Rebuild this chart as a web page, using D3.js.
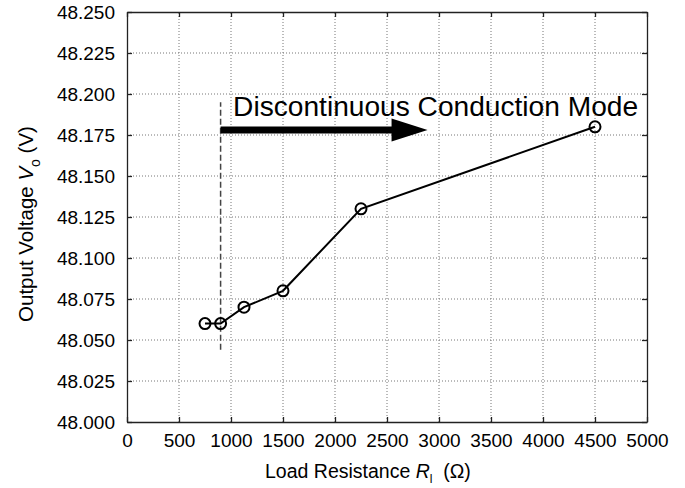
<!DOCTYPE html>
<html>
<head>
<meta charset="utf-8">
<script src="https://cdn.jsdelivr.net/npm/d3@7"></script>
<style>
  body { margin: 0; background: #fff; }
  svg { display: block; font-family: "Liberation Sans", Arial, sans-serif; }
  .grid line { stroke: #777; stroke-width: 1; stroke-dasharray: 1,2; }
</style>
</head>
<body>
<div id="chart"></div>
<script>
// measured values
var resistance = [750, 900, 1125, 1500, 2250, 4500]
var voltage = [48.06, 48.06, 48.07, 48.08, 48.13, 48.18]

var xTicks = [0, 500, 1000, 1500, 2000, 2500, 3000, 3500, 4000, 4500, 5000]
var yTicks = [48.000, 48.025, 48.050, 48.075, 48.100, 48.125, 48.150, 48.175, 48.200, 48.225, 48.250]

// annotation: dashed boundary and arrow (data units)
var boundaryR = 900
var boundaryV = [48.044, 48.195]
var arrowR = [900, 2890]
var arrowV = 48.178
var labelText = "Discontinuous Conduction Mode"
var labelPos = [1020, 48.1866]

var width = 685, height = 488
var margin = {top: 12, right: 38, bottom: 66, left: 127}

var svg = d3.select("#chart").append("svg")
  .attr("width", width)
  .attr("height", height)

var x = d3.scaleLinear().domain([0, 5000]).range([margin.left, width - margin.right])
var y = d3.scaleLinear().domain([48.0, 48.25]).range([height - margin.bottom, margin.top])

// grid
var grid = svg.append("g").attr("class", "grid")
grid.selectAll(".vx").data(xTicks.slice(1, -1)).enter().append("line")
  .attr("x1", function(d) { return x(d) }).attr("x2", function(d) { return x(d) })
  .attr("y1", y(48.0)).attr("y2", y(48.25))
grid.selectAll(".hy").data(yTicks.slice(1, -1)).enter().append("line")
  .attr("y1", function(d) { return y(d) }).attr("y2", function(d) { return y(d) })
  .attr("x1", x(0)).attr("x2", x(5000))

// axes with inward ticks
var fmt = d3.format(".3f")
var bottom = svg.append("g").attr("transform", "translate(0," + y(48.0) + ")")
  .call(d3.axisBottom(x).tickValues(xTicks).tickSizeInner(-5).tickSizeOuter(0).tickPadding(12).tickFormat(d3.format("d")))
var top = svg.append("g").attr("transform", "translate(0," + y(48.25) + ")")
  .call(d3.axisTop(x).tickValues(xTicks).tickSizeInner(-5).tickSizeOuter(0).tickFormat(""))
var left = svg.append("g").attr("transform", "translate(" + x(0) + ",0)")
  .call(d3.axisLeft(y).tickValues(yTicks).tickSizeInner(-5).tickSizeOuter(0).tickPadding(12).tickFormat(fmt))
var right = svg.append("g").attr("transform", "translate(" + x(5000) + ",0)")
  .call(d3.axisRight(y).tickValues(yTicks).tickSizeInner(-5).tickSizeOuter(0).tickFormat(""))

svg.selectAll(".domain").attr("stroke", "#222").attr("stroke-width", 1.3)
svg.selectAll(".tick line").attr("stroke", "#222").attr("stroke-width", 1.3)
svg.selectAll(".tick text").attr("font-size", 19).attr("fill", "#000")
  .attr("font-family", "'Liberation Sans', Arial, sans-serif")

// dashed boundary
svg.append("line")
  .attr("x1", x(boundaryR)).attr("x2", x(boundaryR))
  .attr("y1", y(boundaryV[0])).attr("y2", y(boundaryV[1]))
  .attr("stroke", "#444").attr("stroke-width", 1.5)
  .attr("stroke-dasharray", "6,3")

// arrow
var ax0 = x(arrowR[0]), ax1 = x(arrowR[1]), ay = y(arrowV)
var headLen = 36, shaft = 3.5, head = 11.5
svg.append("path")
  .attr("d", "M" + ax0 + "," + (ay - shaft) + "L" + (ax1 - headLen) + "," + (ay - shaft) +
    "L" + (ax1 - headLen) + "," + (ay - head) + "L" + ax1 + "," + ay +
    "L" + (ax1 - headLen) + "," + (ay + head) + "L" + (ax1 - headLen) + "," + (ay + shaft) +
    "L" + ax0 + "," + (ay + shaft) + "Z")
  .attr("fill", "#000")

svg.append("text")
  .attr("x", x(labelPos[0])).attr("y", y(labelPos[1]))
  .attr("font-size", 27)
  .attr("textLength", 405)
  .attr("lengthAdjust", "spacingAndGlyphs")
  .attr("fill", "#000")
  .text(labelText)

// data line
var line = d3.line()
  .x(function(d) { return x(d[0]) })
  .y(function(d) { return y(d[1]) })
var pts = resistance.map(function(r, i) { return [r, voltage[i]] })

svg.append("path").datum(pts)
  .attr("d", line)
  .attr("fill", "none")
  .attr("stroke", "#000")
  .attr("stroke-width", 2)

svg.selectAll(".pt").data(pts).enter().append("circle")
  .attr("cx", function(d) { return x(d[0]) })
  .attr("cy", function(d) { return y(d[1]) })
  .attr("r", 5.5)
  .attr("fill", "none")
  .attr("stroke", "#000")
  .attr("stroke-width", 2)

// axis titles
var xt = svg.append("text")
  .attr("x", 265).attr("y", 478)
  .attr("font-size", 19.5)
xt.append("tspan").text("Load Resistance ")
xt.append("tspan").attr("font-style", "italic").text("R")
xt.append("tspan").attr("font-size", 12).attr("dy", 5).text("l")
xt.append("tspan").attr("dy", -5).attr("xml:space", "preserve").text("  (\u03A9)")

var yt = svg.append("text")
  .attr("transform", "translate(33,224) rotate(-90)")
  .attr("text-anchor", "middle")
  .attr("font-size", 20.5)
yt.append("tspan").text("Output Voltage ")
yt.append("tspan").attr("font-style", "italic").text("V")
yt.append("tspan").attr("font-size", 14).attr("dy", 7).text("o")
yt.append("tspan").attr("dy", -7).text(" (V)")
</script>
</body>
</html>
